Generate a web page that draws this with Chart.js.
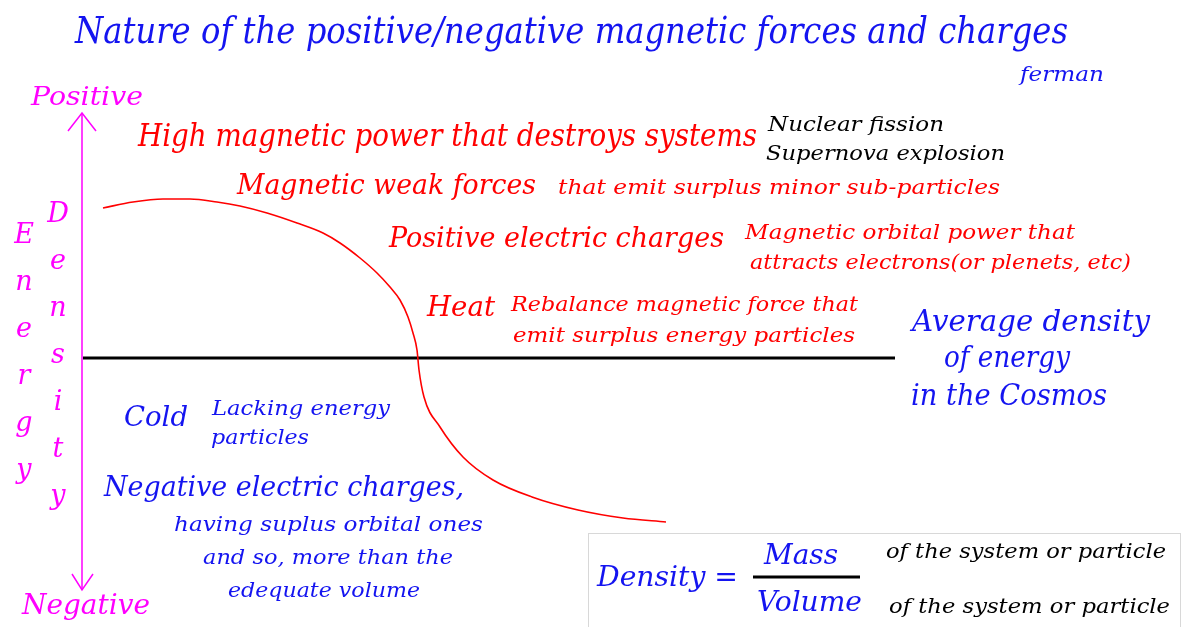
<!DOCTYPE html>
<html>
<head>
<meta charset="utf-8">
<script src="https://cdn.jsdelivr.net/npm/chart.js@4.4.1/dist/chart.umd.min.js"></script>
<style>
  html, body { margin: 0; padding: 0; background: #fff; }
  #wrap { width: 1184px; height: 627px; }
</style>
</head>
<body>
<div id="wrap"><canvas id="myChart" width="1184" height="627"></canvas></div>
<script>
// density curve, x = position across the picture, y = density relative to the cosmic average (0)
var curveX = [103, 133, 163, 190, 217, 240, 267, 297, 323, 340, 360, 377, 390, 400, 408, 413, 417, 419, 424, 440, 463, 493, 532, 578, 623, 666];
var curveY = [150, 156, 159, 159, 156, 152, 145, 135, 125, 115, 100, 85, 71, 58, 41, 25, 8, -12, -39, -69, -99, -122, -139, -152, -160, -164];

// average density line
var avgX = [83, 895];
var avgY = [0, 0];

// the energy/density axis with its two arrow heads
var axisX = [82, 82];
var axisY = [245, -232];
var headTopX = [68, 82, 96];
var headTopY = [227, 245, 227];
var headBotX = [72, 82, 93];
var headBotY = [-216, -232, -216];

// formula bar
var barX = [753, 860];
var barY = [-219, -219];

var blue = "#1414f0";
var red = "#ff0000";
var pink = "#ff00ff";
var fontName = "'DejaVu Serif'";

// text: [label, left, baseline, width, size, colour]
var labels = [
  ["Nature of the positive/negative magnetic forces and charges", 75, 43, 993, 38, blue],
  ["ferman", 1020, 81, 84, 21, blue],
  ["Positive", 31, 105, 112, 26, pink],
  ["High magnetic power that destroys systems", 138, 146, 619, 31, red],
  ["Nuclear fission", 768, 131, 176, 21, "#000"],
  ["Supernova explosion", 766, 160, 239, 21, "#000"],
  ["Magnetic weak forces", 237, 194, 299, 28, red],
  ["that emit surplus minor sub-particles", 558, 194, 442, 21, red],
  ["Positive electric charges", 389, 247, 335, 28, red],
  ["Magnetic orbital power that", 745, 239, 330, 21, red],
  ["attracts electrons(or plenets, etc)", 750, 269, 381, 21, red],
  ["Heat", 427, 316, 68, 28, red],
  ["Rebalance magnetic force that", 511, 311, 347, 21, red],
  ["emit surplus energy particles", 513, 342, 342, 21, red],
  ["Average density", 912, 331, 238, 30, blue],
  ["of energy", 944, 367, 126, 30, blue],
  ["in the Cosmos", 911, 405, 196, 30, blue],
  ["Cold", 124, 426, 64, 28, blue],
  ["Lacking energy", 212, 415, 178, 21, blue],
  ["particles", 211, 444, 98, 21, blue],
  ["Negative electric charges,", 104, 496, 360, 28, blue],
  ["having suplus orbital ones", 174, 531, 309, 21, blue],
  ["and so, more than the", 203, 564, 250, 21, blue],
  ["edequate volume", 228, 597, 192, 21, blue],
  ["Negative", 22, 614, 128, 28, pink],
  ["Density =", 597, 586, 141, 28, blue],
  ["Mass", 764, 564, 74, 28, blue],
  ["Volume", 757, 611, 105, 28, blue],
  ["of the system or particle", 886, 558, 280, 21, "#000"],
  ["of the system or particle", 889, 613, 281, 21, "#000"]
];

var energyLetters = ["E", "n", "e", "r", "g", "y"];
var densityLetters = ["D", "e", "n", "s", "i", "t", "y"];

function pts(xs, ys) {
  return xs.map(function (x, i) { return { x: x, y: ys[i] }; });
}

var textPlugin = {
  id: "diagramText",
  beforeDraw: function (chart) {
    var c = chart.ctx;
    c.save();
    c.fillStyle = "#fff";
    c.fillRect(0, 0, chart.width, chart.height);
    // dotted frame round the formula
    c.strokeStyle = "#b0b0b0";
    c.lineWidth = 1;
    c.setLineDash([1, 1]);
    c.strokeRect(588.5, 533.5, 592, 120);
    c.restore();
  },
  afterDraw: function (chart) {
    var c = chart.ctx;
    c.save();
    c.textBaseline = "alphabetic";
    labels.forEach(function (l) {
      c.font = "italic " + l[4] + "px " + fontName;
      c.fillStyle = l[5];
      var m = c.measureText(l[0]).width;
      c.save();
      c.translate(l[1], l[2]);
      c.scale(l[3] / m, 1);
      c.fillText(l[0], 0, 0);
      c.restore();
    });
    c.textAlign = "center";
    c.fillStyle = pink;
    c.font = "italic 27px " + fontName;
    energyLetters.forEach(function (ch, i) {
      c.fillText(ch, 24, 243 + i * 47);
    });
    densityLetters.forEach(function (ch, i) {
      c.fillText(ch, 58, 222 + i * 47);
    });
    c.restore();
  }
};

var ctx = document.getElementById("myChart").getContext("2d");
var myChart = new Chart(ctx, {
  type: "line",
  data: {
    datasets: [
      { data: pts(curveX, curveY), borderColor: red, borderWidth: 1.6, cubicInterpolationMode: "monotone" },
      { data: pts(avgX, avgY), borderColor: "#000", borderWidth: 3 },
      { data: pts(axisX, axisY), borderColor: pink, borderWidth: 1.5 },
      { data: pts(headTopX, headTopY), borderColor: pink, borderWidth: 1.5 },
      { data: pts(headBotX, headBotY), borderColor: pink, borderWidth: 1.5 },
      { data: pts(barX, barY), borderColor: "#000", borderWidth: 3 }
    ]
  },
  options: {
    responsive: false,
    animation: false,
    events: [],
    layout: { padding: 0 },
    elements: { point: { radius: 0 } },
    scales: {
      x: { type: "linear", min: 0, max: 1184, display: false },
      y: { type: "linear", min: -269, max: 358, display: false }
    },
    plugins: {
      legend: { display: false },
      tooltip: { enabled: false }
    }
  },
  plugins: [textPlugin]
});
</script>
</body>
</html>
